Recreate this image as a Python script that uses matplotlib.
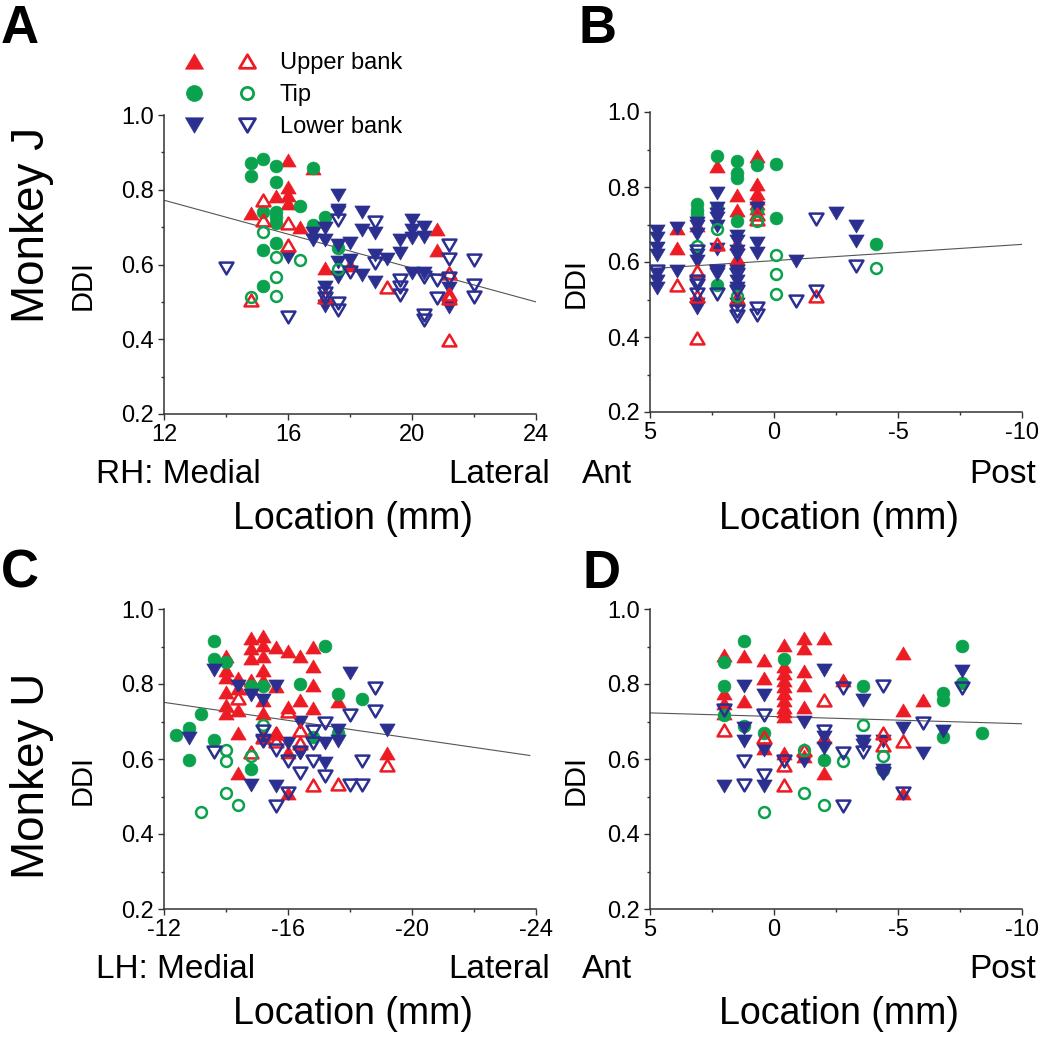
import matplotlib
matplotlib.use("Agg")
import matplotlib.pyplot as plt
import numpy as np
from matplotlib.lines import Line2D
from matplotlib.markers import MarkerStyle
from matplotlib.path import Path
from matplotlib.legend_handler import HandlerTuple
from matplotlib.ticker import MultipleLocator, FormatStrFormatter

plt.rcParams['font.family'] = ['Liberation Sans', 'DejaVu Sans']
plt.rcParams['axes.unicode_minus'] = False

RED = '#ED1C24'
GREEN = '#0BA24D'
BLUE = '#2B2F8F'

# ---- data: (location mm, DDI) per cell group ----
# Panel A: Monkey J, medial-lateral
a_up_f = [(14.8, 0.739), (15.6, 0.784), (16.0, 0.880), (16.0, 0.808), (16.0, 0.786), (16.0, 0.764),
          (16.4, 0.700), (16.8, 0.857), (17.2, 0.590), (18.0, 0.600), (20.8, 0.695), (20.8, 0.640)]
a_up_o = [(14.8, 0.505), (15.2, 0.772), (15.2, 0.719), (16.0, 0.710), (16.0, 0.652), (17.2, 0.514),
          (19.2, 0.540), (21.2, 0.576), (21.2, 0.520), (21.2, 0.510), (21.2, 0.398)]
a_tip_f = [(14.8, 0.871), (14.8, 0.837), (15.2, 0.882), (15.6, 0.864), (15.6, 0.822), (15.2, 0.741),
           (15.6, 0.741), (15.6, 0.728), (15.6, 0.710), (16.4, 0.756), (16.8, 0.859), (17.2, 0.728),
           (16.8, 0.706), (15.2, 0.639), (15.6, 0.657), (15.2, 0.542), (17.6, 0.643)]
a_tip_o = [(15.2, 0.688), (15.6, 0.621), (16.4, 0.612), (15.6, 0.566), (15.6, 0.516), (14.8, 0.514),
           (17.6, 0.587)]
a_lo_f = [(16.0, 0.620), (16.8, 0.683), (16.8, 0.665), (17.2, 0.697), (17.2, 0.665), (17.2, 0.540),
          (17.2, 0.490), (17.6, 0.786), (17.6, 0.746), (17.6, 0.740), (17.6, 0.652), (17.6, 0.607),
          (17.6, 0.567), (18.0, 0.657), (18.0, 0.612), (18.4, 0.740), (18.4, 0.692), (18.4, 0.572),
          (18.8, 0.683), (18.8, 0.625), (18.8, 0.554), (19.2, 0.616), (19.6, 0.665), (19.6, 0.630),
          (20.0, 0.720), (20.0, 0.692), (20.0, 0.670), (20.0, 0.576), (20.4, 0.700), (20.4, 0.674),
          (20.4, 0.576), (21.2, 0.536), (21.2, 0.487)]
a_lo_o = [(14.0, 0.590), (16.0, 0.460), (17.2, 0.523), (17.2, 0.510), (17.6, 0.719), (17.6, 0.496),
          (17.6, 0.478), (18.0, 0.581), (18.8, 0.715), (18.8, 0.603), (19.6, 0.558), (19.6, 0.540),
          (19.6, 0.518), (20.4, 0.567), (20.4, 0.465), (20.4, 0.451), (20.8, 0.558), (20.8, 0.510),
          (21.2, 0.652), (21.2, 0.616), (21.2, 0.563), (22.0, 0.612), (22.0, 0.545), (22.0, 0.514)]

# Panel B: Monkey J, anterior-posterior
b_up_f = [(3.9, 0.692), (3.9, 0.638), (3.1, 0.700), (2.3, 0.856), (1.5, 0.780), (1.5, 0.740),
          (1.5, 0.651), (1.5, 0.611), (0.7, 0.883), (0.7, 0.807), (0.7, 0.785), (0.7, 0.771),
          (0.7, 0.758), (0.7, 0.745)]
b_up_o = [(3.9, 0.540), (3.1, 0.576), (3.1, 0.509), (3.1, 0.398), (2.3, 0.647), (1.5, 0.505),
          (0.7, 0.727), (0.7, 0.714), (-1.7, 0.509)]
b_tip_f = [(3.1, 0.754), (3.1, 0.740), (3.1, 0.727), (2.3, 0.883), (2.3, 0.745), (1.5, 0.869),
           (1.5, 0.838), (1.5, 0.825), (1.5, 0.709), (0.7, 0.860), (0.7, 0.736), (-0.1, 0.862),
           (-0.1, 0.718), (-4.1, 0.647), (2.3, 0.540)]
b_tip_o = [(3.1, 0.643), (2.3, 0.687), (1.5, 0.509), (0.7, 0.710), (-0.1, 0.620), (-0.1, 0.567),
           (-0.1, 0.514), (-4.1, 0.585)]
b_lo_f = [(4.7, 0.683), (4.7, 0.665), (4.7, 0.638), (4.7, 0.620), (4.7, 0.567), (4.7, 0.550),
          (4.7, 0.532), (3.9, 0.692), (3.9, 0.576), (3.1, 0.705), (3.1, 0.696), (3.1, 0.674),
          (3.1, 0.620), (3.1, 0.603), (3.1, 0.487), (3.1, 0.478), (2.3, 0.785), (2.3, 0.745),
          (2.3, 0.727), (2.3, 0.718), (2.3, 0.696), (2.3, 0.634), (2.3, 0.576), (2.3, 0.567),
          (1.5, 0.669), (1.5, 0.656), (1.5, 0.629), (1.5, 0.620), (1.5, 0.576), (1.5, 0.549),
          (1.5, 0.532), (1.5, 0.487), (0.7, 0.745), (0.7, 0.651), (0.7, 0.625), (-0.9, 0.603),
          (-2.5, 0.731), (-3.3, 0.696), (-3.3, 0.656)]
b_lo_o = [(4.7, 0.576), (3.1, 0.629), (3.1, 0.549), (3.1, 0.540), (3.1, 0.514), (2.3, 0.576),
          (2.3, 0.514), (1.5, 0.567), (1.5, 0.523), (1.5, 0.469), (1.5, 0.456), (0.7, 0.478),
          (0.7, 0.460), (-0.9, 0.496), (-1.7, 0.714), (-1.7, 0.523), (-3.3, 0.589)]

# Panel C: Monkey U, medial-lateral
c_up_f = [(-14.0, 0.874), (-14.0, 0.838), (-14.0, 0.820), (-14.0, 0.780), (-14.0, 0.745), (-14.0, 0.723),
          (-14.4, 0.816), (-14.4, 0.789), (-14.4, 0.732), (-14.4, 0.670), (-14.4, 0.563), (-14.8, 0.923),
          (-14.8, 0.896), (-14.8, 0.869), (-14.8, 0.812), (-14.8, 0.789), (-15.2, 0.927), (-15.2, 0.905),
          (-15.2, 0.874), (-15.2, 0.838), (-15.2, 0.812), (-15.2, 0.758), (-15.2, 0.723), (-15.6, 0.899),
          (-15.6, 0.794), (-15.6, 0.670), (-16.0, 0.887), (-16.0, 0.740), (-16.0, 0.620), (-16.0, 0.509),
          (-16.4, 0.874), (-16.4, 0.758), (-16.8, 0.900), (-16.8, 0.847), (-16.8, 0.798), (-16.8, 0.736),
          (-17.6, 0.754), (-19.2, 0.616)]
c_up_o = [(-14.4, 0.763), (-14.8, 0.620), (-15.2, 0.660), (-15.6, 0.670), (-15.6, 0.647), (-16.0, 0.727),
          (-16.4, 0.678), (-16.4, 0.643), (-16.8, 0.531), (-17.6, 0.534), (-19.2, 0.585)]
c_tip_f = [(-12.4, 0.665), (-12.8, 0.683), (-12.8, 0.598), (-13.2, 0.721), (-13.6, 0.916), (-13.6, 0.867),
           (-13.6, 0.652), (-14.0, 0.858), (-14.8, 0.794), (-14.8, 0.573), (-15.2, 0.794), (-16.4, 0.800),
           (-16.8, 0.660), (-17.2, 0.902), (-17.6, 0.773), (-18.4, 0.760), (-17.6, 0.670)]
c_tip_o = [(-13.2, 0.459), (-14.0, 0.623), (-14.0, 0.594), (-14.0, 0.509), (-14.4, 0.478), (-14.8, 0.607),
           (-15.2, 0.692)]
c_lo_f = [(-12.8, 0.656), (-13.6, 0.838), (-14.4, 0.794), (-14.8, 0.772), (-14.8, 0.532), (-15.2, 0.758),
          (-15.2, 0.651), (-15.6, 0.794), (-15.6, 0.527), (-16.0, 0.643), (-16.4, 0.700), (-16.4, 0.616),
          (-17.2, 0.643), (-17.2, 0.589), (-17.6, 0.678), (-17.6, 0.647), (-18.0, 0.829), (-19.2, 0.678)]
c_lo_o = [(-13.6, 0.618), (-15.2, 0.674), (-15.2, 0.647), (-15.6, 0.625), (-15.6, 0.474), (-16.0, 0.594),
          (-16.0, 0.509), (-16.4, 0.620), (-16.4, 0.563), (-16.8, 0.674), (-16.8, 0.643), (-16.8, 0.594),
          (-17.2, 0.696), (-17.2, 0.554), (-18.0, 0.718), (-18.0, 0.532), (-18.4, 0.594), (-18.4, 0.532),
          (-18.8, 0.789), (-18.8, 0.727)]

# Panel D: Monkey U, anterior-posterior
d_up_f = [(2.0, 0.878), (2.0, 0.776), (2.0, 0.749), (2.0, 0.723), (1.2, 0.874), (1.2, 0.754),
          (0.4, 0.865), (0.4, 0.816), (0.4, 0.629), (-0.4, 0.905), (-0.4, 0.847), (-0.4, 0.829),
          (-0.4, 0.812), (-0.4, 0.794), (-0.4, 0.776), (-0.4, 0.758), (-0.4, 0.740), (-0.4, 0.727),
          (-0.4, 0.714), (-0.4, 0.616), (-1.2, 0.923), (-1.2, 0.896), (-1.2, 0.834), (-1.2, 0.798),
          (-1.2, 0.740), (-1.2, 0.607), (-2.0, 0.923), (-2.0, 0.660), (-2.0, 0.563), (-2.8, 0.812),
          (-5.2, 0.883), (-5.2, 0.732), (-5.2, 0.509), (-6.0, 0.758)]
d_up_o = [(2.0, 0.678), (0.4, 0.660), (-0.4, 0.585), (-0.4, 0.531), (-1.2, 0.625), (-2.0, 0.758),
          (-4.4, 0.669), (-4.4, 0.638), (-5.2, 0.647)]
d_tip_f = [(2.0, 0.860), (2.0, 0.794), (2.0, 0.718), (1.2, 0.914), (1.2, 0.687), (0.4, 0.669),
           (-0.4, 0.867), (-2.0, 0.598), (-3.6, 0.796), (-4.4, 0.572), (-6.8, 0.776), (-6.8, 0.758),
           (-6.8, 0.660), (-7.6, 0.902), (-7.6, 0.803), (-8.4, 0.669)]
d_tip_o = [(0.4, 0.459), (-1.2, 0.625), (-1.2, 0.509), (-2.0, 0.478), (-2.8, 0.594), (-3.6, 0.692),
           (-4.4, 0.607)]
d_lo_f = [(2.0, 0.527), (1.2, 0.794), (1.2, 0.683), (1.2, 0.647), (0.4, 0.772), (0.4, 0.625),
          (0.4, 0.527), (-1.2, 0.700), (-1.2, 0.594), (-2.0, 0.838), (-2.0, 0.660), (-2.0, 0.629),
          (-3.6, 0.758), (-3.6, 0.647), (-3.6, 0.638), (-4.4, 0.647), (-4.4, 0.572), (-5.2, 0.683),
          (-6.0, 0.616), (-6.8, 0.674), (-7.6, 0.834)]
d_lo_o = [(2.0, 0.732), (1.2, 0.594), (1.2, 0.532), (0.4, 0.718), (0.4, 0.558), (-0.4, 0.594),
          (-2.0, 0.674), (-2.8, 0.789), (-2.8, 0.616), (-2.8, 0.474), (-3.6, 0.620), (-4.4, 0.794),
          (-4.4, 0.563), (-5.2, 0.509), (-6.0, 0.696), (-7.6, 0.789)]

# linear fits (intercept, slope) and x span of the drawn line
fit_a = (1.044, -0.02267, 12, 24)
fit_b = (0.6037, -0.00433, 5, -10)
fit_c = (0.895, 0.012, -12, -23.8)
fit_d = (0.7133, 0.00193, 5, -10)

# ---- figure ----
W, H = 1050, 1041
fig = plt.figure(figsize=(W / 100, H / 100), dpi=100)


def px(x, y):
    return x / W, 1 - y / H


def tri(sign):
    h = 0.85 * sign
    return MarkerStyle(Path([(-1, -h), (1, -h), (0, h), (-1, -h)],
                            [Path.MOVETO, Path.LINETO, Path.LINETO, Path.CLOSEPOLY]),
                       joinstyle='miter')


TRI_UP = tri(1)
TRI_DN = tri(-1)

groups = [
    # index in panel tuple, marker, color, filled
    (0, TRI_UP, RED, True),
    (2, 'o', GREEN, True),
    (4, TRI_DN, BLUE, True),
    (1, TRI_UP, RED, False),
    (3, 'o', GREEN, False),
    (5, TRI_DN, BLUE, False),
]


def style(marker, color, filled, big=False):
    is_tri = not isinstance(marker, str)
    if filled:
        if big:
            ms = 13 if is_tri else 11.5
        else:
            ms = 11 if is_tri else 9.2
        return dict(marker=marker, ms=ms, mfc=color, mec=color, mew=0.5, ls='none')
    if big:
        ms = 11.5 if is_tri else 8.8
    else:
        ms = 10 if is_tri else 7.8
    return dict(marker=marker, ms=ms, mfc='none', mec=color, mew=2.0 if big else 1.8, ls='none')


panels = [
    ('A', (164, 115, 536, 414), (a_up_f, a_up_o, a_tip_f, a_tip_o, a_lo_f, a_lo_o), fit_a,
     (12, 24), [12, 16, 20, 24], 2, 'RH: Medial', 'Lateral'),
    ('B', (650, 112, 1022, 412), (b_up_f, b_up_o, b_tip_f, b_tip_o, b_lo_f, b_lo_o), fit_b,
     (5, -10), [5, 0, -5, -10], 2.5, 'Ant', 'Post'),
    ('C', (164, 609, 536, 909), (c_up_f, c_up_o, c_tip_f, c_tip_o, c_lo_f, c_lo_o), fit_c,
     (-12, -24), [-12, -16, -20, -24], 2, 'LH: Medial', 'Lateral'),
    ('D', (650, 609, 1022, 909), (d_up_f, d_up_o, d_tip_f, d_tip_o, d_lo_f, d_lo_o), fit_d,
     (5, -10), [5, 0, -5, -10], 2.5, 'Ant', 'Post'),
]

axes = {}
for letter, box, data, fit, xlim, xticks, xminor, left_lab, right_lab in panels:
    x0, y0, x1, y1 = box
    ax = fig.add_axes([x0 / W, 1 - y1 / H, (x1 - x0) / W, (y1 - y0) / H])
    axes[letter] = ax

    b0, b1, fx0, fx1 = fit
    fx = np.array([fx0, fx1])
    ax.plot(fx, b0 + b1 * fx, color='#555555', lw=0.8, zorder=1)

    for idx, marker, color, filled in groups:
        pts = np.array(data[idx])
        ax.plot(pts[:, 0], pts[:, 1], zorder=2, clip_on=False, **style(marker, color, filled))

    ax.set_xlim(*xlim)
    ax.set_ylim(0.2, 1.0)
    ax.set_xticks(xticks)
    ax.xaxis.set_minor_locator(MultipleLocator(xminor))
    ax.yaxis.set_major_locator(MultipleLocator(0.2))
    ax.yaxis.set_minor_locator(MultipleLocator(0.1))
    ax.yaxis.set_major_formatter(FormatStrFormatter('%.1f'))
    for s in ('top', 'right'):
        ax.spines[s].set_visible(False)
    for s in ('left', 'bottom'):
        ax.spines[s].set_linewidth(1.1)
        ax.spines[s].set_color('#333333')
    ax.tick_params(which='both', direction='out', width=1, color='#333333')
    ax.tick_params(which='major', length=4, labelsize=17, pad=3)
    ax.tick_params(which='minor', length=2.5)
    ax.tick_params(axis='x', which='major', pad=3)

    ax.set_ylabel('DDI', fontsize=21)
    ax.yaxis.set_label_coords(-0.18 if x0 < 600 else -0.162, 0.43)

    # side / axis titles below
    base = 483 if y1 < 500 else 978
    fig.text(*px(x0 - 68, base), left_lab, fontsize=24, ha='left', va='baseline')
    fig.text(*px(x1 + 14, base), right_lab, fontsize=24, ha='right', va='baseline')
    fig.text(*px((x0 + x1) / 2 + 3, base + 46), 'Location (mm)', fontsize=27, ha='center', va='baseline')

# panel letters
for letter, (lx, ly) in {'A': (20, 43), 'B': (598, 43), 'C': (20, 588), 'D': (601, 588)}.items():
    fig.text(*px(lx, ly), letter, fontsize=38, fontweight='bold', ha='center', va='baseline')

fig.text(*px(32, 225), 'Monkey J', fontsize=33, rotation=90, ha='center', va='center')
fig.text(*px(32, 776), 'Monkey U', fontsize=33, rotation=90, ha='center', va='center')

# legend with filled + open marker pairs
handles = []
for marker, color in ((TRI_UP, RED), ('o', GREEN), (TRI_DN, BLUE)):
    hf = Line2D([], [], **style(marker, color, True, big=True))
    ho = Line2D([], [], **style(marker, color, False, big=True))
    handles.append((hf, ho))
fs_px = 17 * 100 / 72
leg = axes['A'].legend(handles, ['Upper bank', 'Tip', 'Lower bank'],
                       handler_map={tuple: HandlerTuple(ndivide=None, pad=31 / fs_px)},
                       loc='upper left', bbox_to_anchor=px(183, 52), bbox_transform=fig.transFigure,
                       frameon=False, fontsize=17, handlelength=75 / fs_px, handletextpad=0.93,
                       borderpad=0, borderaxespad=0, labelspacing=0.43, numpoints=1)

fig.savefig('out.png', dpi=100)
